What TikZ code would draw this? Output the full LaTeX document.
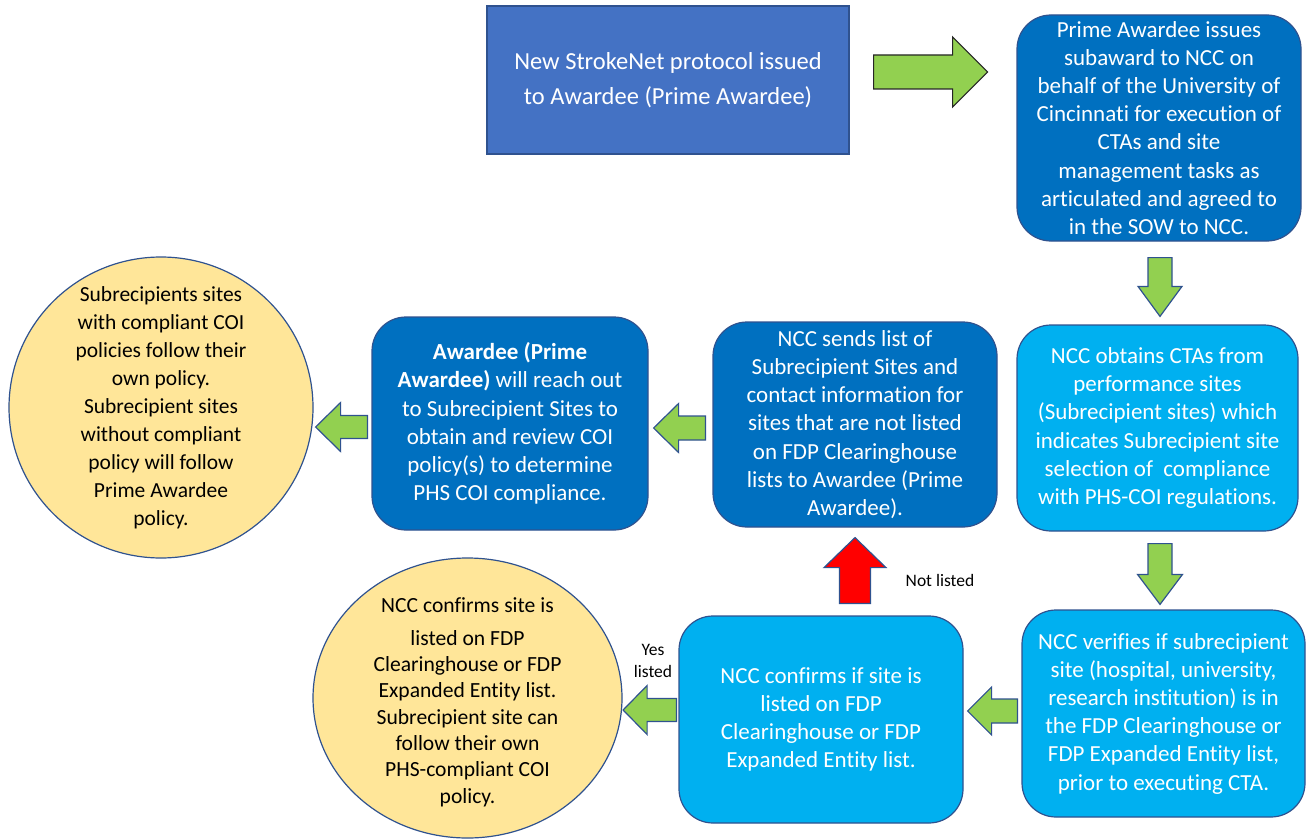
\documentclass[tikz,border=0pt]{standalone}
\usepackage{fontspec}
\setmainfont{Carlito}[Ligatures=NoCommon]
\usetikzlibrary{shapes.geometric,calc}

\definecolor{topblue}{HTML}{4472C4}
\definecolor{darkblue}{HTML}{0070C0}
\definecolor{lightblue}{HTML}{00B0F0}
\definecolor{edgeblue}{HTML}{2F528F}
\definecolor{arrowgreen}{HTML}{92D050}
\definecolor{softyellow}{HTML}{FFE699}

\newcommand{\boxfont}{\fontsize{23}{28.2}\selectfont}
\newcommand{\topfont}{\fontsize{24.5}{35}\selectfont}
\newcommand{\bubblefont}{\fontsize{21.5}{28}\selectfont}
\newcommand{\notefont}{\fontsize{17.5}{22}\selectfont}

% block arrow: style, from, to, shaft half width, head half width, head length
\newcommand{\blockarrow}[6]{%
  \coordinate (hb) at ($(#3)!#6pt!(#2)$);
  \draw[#1] ($(#2)!#4pt!90:(#3)$) -- ($(hb)!#4pt!90:(#3)$) -- ($(hb)!#5pt!90:(#3)$)
    -- (#3) -- ($(hb)!#5pt!-90:(#3)$) -- ($(hb)!#4pt!-90:(#3)$) -- ($(#2)!#4pt!-90:(#3)$) -- cycle;
}

\begin{document}
\begin{tikzpicture}[x=1pt, y=-1pt,
    box/.style={draw=edgeblue, line width=1.2pt, rounded corners=34pt, text=white,
      align=center, font=\boxfont, inner sep=0pt},
    darkbox/.style={box, fill=darkblue},
    lightbox/.style={box, fill=lightblue},
    bubble/.style={ellipse, draw=edgeblue, line width=1.2pt, fill=softyellow, inner sep=0pt},
    greenarrow/.style={fill=arrowgreen, draw=edgeblue, line width=1.2pt, line join=miter},
    redarrow/.style={greenarrow, fill=red}]

  \useasboundingbox (0,0) rectangle (1306,840);

  % boxes
  \node[fill=topblue, draw=edgeblue, line width=1.2pt, text=white, align=center, font=\topfont,
    minimum width=362pt, minimum height=148pt, inner sep=0pt] (newp) at (668,80)
    {New StrokeNet protocol issued\\to Awardee (Prime Awardee)};
  \node[darkbox, minimum width=284pt, minimum height=226pt] (subaw) at (1159,128)
    {Prime Awardee issues\\subaward to NCC on\\behalf of the University of\\Cincinnati for execution of\\CTAs and site\\management tasks as\\articulated and agreed to\\in the SOW to NCC.};
  \node[lightbox, minimum width=281pt, minimum height=206pt] (obtain) at (1157.5,428)
    {NCC obtains CTAs from\\performance sites\\(Subrecipient sites) which\\indicates Subrecipient site\\selection of~ compliance\\with PHS-COI regulations.};
  \node[lightbox, minimum width=283pt, minimum height=207pt] (verify) at (1163.5,713.5)
    {NCC verifies if subrecipient\\site (hospital, university,\\research institution) is in\\the FDP Clearinghouse or\\FDP Expanded Entity list,\\prior to executing CTA.};
  \node[lightbox, minimum width=284pt, minimum height=207pt] (confirm) at (821,719.5)
    {NCC confirms if site is\\listed on FDP\\Clearinghouse or FDP\\Expanded Entity list.};
  \node[darkbox, minimum width=284pt, minimum height=205pt] (sends) at (855,424.5)
    {NCC sends list of\\Subrecipient Sites and\\contact information for\\sites that are not listed\\on FDP Clearinghouse\\lists to Awardee (Prime\\Awardee).};
  \node[darkbox, minimum width=276pt, minimum height=213pt] (reach) at (510,423.5)
    {\textbf{Awardee (Prime}\\\textbf{Awardee)} will reach out\\to Subrecipient Sites to\\obtain and review COI\\policy(s) to determine\\PHS COI compliance.};

  % bubbles
  \node[bubble, minimum width=304pt, minimum height=301pt] (own) at (161,407.5) {};
  \node[align=center, font=\bubblefont, inner sep=0pt] (owntext) at (own.center)
    {Subrecipients sites\\with compliant COI\\policies follow their\\own policy.\\Subrecipient sites\\without compliant\\policy will follow\\Prime Awardee\\policy.};
  \node[bubble, minimum width=309pt, minimum height=280pt] (listed) at (467.5,698) {};
  \node[align=center, font=\fontsize{21.6}{26.3}\selectfont, inner sep=0pt] (listedtext) at ($(listed.center)+(0,4)$)
    {NCC confirms site is\\[6.7pt]listed on FDP\\Clearinghouse or FDP\\Expanded Entity list.\\Subrecipient site can\\follow their own\\PHS-compliant COI\\policy.};

  % labels
  \node[font=\notefont] (notl) at (940,580) {Not listed};
  \node[font=\notefont, align=center] (yesl) at (653,661) {Yes\\listed};

  % arrows
  \coordinate (a1s) at ($(newp.east)+(24,-8)$);
  \coordinate (a1e) at ($(newp.east)+(138,-8)$);
  \coordinate (a2s) at ($(subaw.south)+(1,16)$);
  \coordinate (a2e) at ($(obtain.north)+(2.5,-8)$);
  \coordinate (a3s) at ($(obtain.south)+(2.5,12)$);
  \coordinate (a3e) at ($(verify.north)+(-3.5,-5)$);
  \coordinate (a4s) at ($(verify.west)+(-4,-2.5)$);
  \coordinate (a4e) at ($(confirm.east)+(4,-8.5)$);
  \coordinate (a5s) at ($(confirm.west)+(-2,-9.5)$);
  \coordinate (a5e) at ($(listed.east)+(0.5,12)$);
  \coordinate (a6s) at ($(confirm.north)+(34,-12)$);
  \coordinate (a6e) at ($(sends.south)+(0,10)$);
  \coordinate (a7s) at ($(sends.west)+(-7,3.5)$);
  \coordinate (a7e) at ($(reach.east)+(5,4.5)$);
  \coordinate (a8s) at ($(reach.west)+(-4,3.5)$);
  \coordinate (a8e) at ($(own.east)+(2,19.5)$);

  \blockarrow{greenarrow, draw=black!85}{a1s}{a1e}{17}{35}{35}
  \blockarrow{greenarrow}{a2s}{a2e}{12}{22}{30}
  \blockarrow{greenarrow}{a3s}{a3e}{12}{22.5}{30}
  \blockarrow{greenarrow}{a4s}{a4e}{12}{24}{24}
  \blockarrow{greenarrow}{a5s}{a5e}{11.5}{24.5}{24}
  \blockarrow{redarrow}{a6s}{a6e}{15.5}{31}{30}
  \blockarrow{greenarrow}{a7s}{a7e}{12}{24.5}{25}
  \blockarrow{greenarrow}{a8s}{a8e}{11.5}{24.5}{25}
\end{tikzpicture}
\end{document}
